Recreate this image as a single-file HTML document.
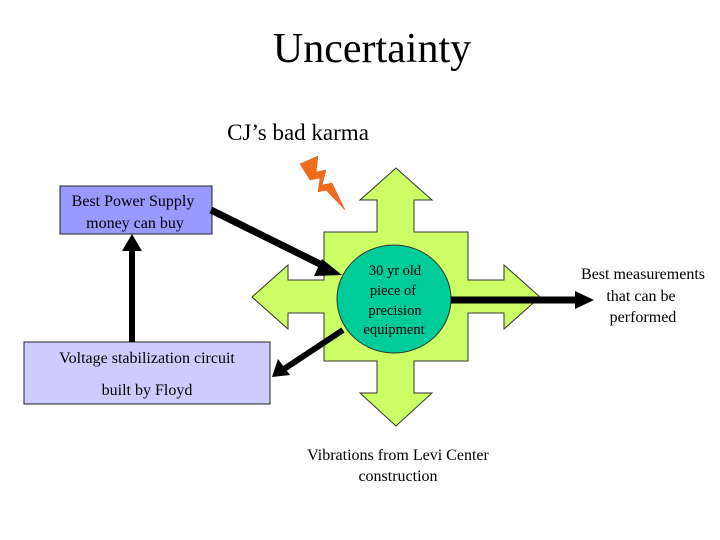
<!DOCTYPE html>
<html><head><meta charset="utf-8"><style>
html,body{margin:0;padding:0;background:#fff;}
svg{display:block;font-family:"Liberation Serif",serif;}
</style></head><body>
<svg width="720" height="540" viewBox="0 0 720 540">
<text x="372" y="62" font-size="42" text-anchor="middle">Uncertainty</text>
<text x="298" y="140" font-size="23" text-anchor="middle">CJ’s bad karma</text>
<polygon points="300,164 318,156 316,172 326,170 322,185 332,183 345,210 326,190 318,192 320,178 310,180" fill="#f26b1d" stroke="#d05a10" stroke-width="0.5"/>
<polygon fill="#ccff66" stroke="#333" stroke-width="1" points="396,168 432,200 414,200 414,232 468,232 468,280 504,280 504,265 540,297 504,329 504,313 468,313 468,361 414,361 414,393 432,393 396,426 360,393 377,393 377,361 324,361 324,313 288,313 288,329 252,297 288,265 288,280 324,280 324,232 377,232 377,200 360,200"/>
<ellipse cx="394" cy="299" rx="57" ry="54" fill="#00cc99" stroke="#333" stroke-width="1"/>
<g font-size="14.5" text-anchor="middle">
<text x="395" y="275">30 yr old</text>
<text x="393" y="295">piece of</text>
<text x="395" y="315">precision</text>
<text x="394" y="334">equipment</text>
</g>
<rect x="60" y="186" width="152" height="48" fill="#9999ff" stroke="#222"/>
<text x="133" y="206" font-size="16" text-anchor="middle">Best Power Supply</text>
<text x="135" y="228" font-size="16" text-anchor="middle">money can buy</text>
<rect x="24" y="342" width="246" height="62" fill="#ccccff" stroke="#222"/>
<text x="147" y="363" font-size="16" text-anchor="middle">Voltage stabilization circuit</text>
<text x="147" y="395" font-size="16" text-anchor="middle">built by Floyd</text>
<line x1="132" y1="342" x2="132" y2="248" stroke="#000" stroke-width="6"/>
<polygon points="132,234 122,251 142,251" fill="#000"/>
<line x1="211" y1="210" x2="328" y2="268" stroke="#000" stroke-width="7"/>
<polygon points="342,275 322,259 314,276" fill="#000"/>
<line x1="343" y1="330" x2="284" y2="369" stroke="#000" stroke-width="6"/>
<polygon points="272,377 278,359 290,375" fill="#000"/>
<line x1="451" y1="300" x2="578" y2="300" stroke="#000" stroke-width="7"/>
<polygon points="594,300 575,291 575,309" fill="#000"/>
<g font-size="16" text-anchor="middle">
<text x="643" y="279">Best measurements</text>
<text x="641" y="301">that can be</text>
<text x="643" y="322">performed</text>
<text x="398" y="460">Vibrations from Levi Center</text>
<text x="398" y="481">construction</text>
</g>
</svg>
</body></html>
